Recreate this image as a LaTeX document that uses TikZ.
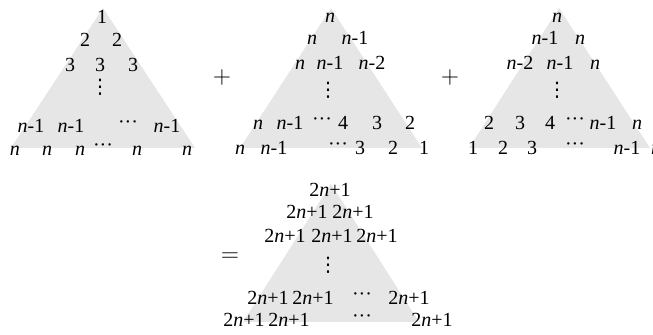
\documentclass[tikz,border=0pt]{standalone}
\usepackage{fontspec}
\setmainfont{Liberation Serif}
\newfontfamily\dotfont{DejaVu Sans}
\usepackage{tikz}
\definecolor{trigray}{HTML}{E6E6E6}
\newcommand{\nn}{\textit{n}}
\newcommand{\rowdots}{\raisebox{0.2em}{\textperiodcentered\textperiodcentered\textperiodcentered}}
\newcommand{\coldots}{{\dotfont ⋮}}

\begin{document}
\begin{tikzpicture}[x=0.5pt, y=-0.5pt,
    entry/.style={anchor=base, inner sep=0pt},
    vdot/.style={inner sep=0pt},
    sign/.style={inner sep=0pt, font=\large}]
  \useasboundingbox (0,0) rectangle (653,335);

  % grey triangles
  \fill[trigray] (103,8) -- (11,148) -- (195,148) -- cycle;
  \fill[trigray] (331,8) -- (240,148) -- (422,148) -- cycle;
  \fill[trigray] (559,8) -- (469,148) -- (650,148) -- cycle;
  \fill[trigray] (331,184) -- (243,322) -- (419,322) -- cycle;

  % first triangle
  \node[entry] (a1) at (102,24) {1};
  \foreach \x [count=\k] in {85,117}
    \node[entry] (a2-\k) at (\x,47) {2};
  \foreach \x [count=\k] in {70,100,133}
    \node[entry] (a3-\k) at (\x,72) {3};
  \node[vdot] (a-vd) at (100,87) {\coldots};
  \foreach \x/\t [count=\k] in {31/\nn-1, 71/\nn-1, 128/\rowdots, 167/\nn-1}
    \node[entry] (a4-\k) at (\x,133) {\t};
  \foreach \x/\t [count=\k] in {15/\nn, 47/\nn, 80/\nn, 103/\rowdots, 137/\nn, 187/\nn}
    \node[entry] (a5-\k) at (\x,156) {\t};

  \node[sign] (plus1) at (222,78) {$+$};

  % second triangle
  \node[entry] (b1) at (330,23) {\nn};
  \foreach \x/\t [count=\k] in {312/\nn, 355/\nn-1}
    \node[entry] (b2-\k) at (\x,45) {\t};
  \foreach \x/\t [count=\k] in {300/\nn, 330/\nn-1, 372/\nn-2}
    \node[entry] (b3-\k) at (\x,70) {\t};
  \node[vdot] (b-vd) at (328,90) {\coldots};
  \foreach \x/\t [count=\k] in {258/\nn, 290/\nn-1, 322/\rowdots, 343/4, 377/3, 410/2}
    \node[entry] (b4-\k) at (\x,130) {\t};
  \foreach \x/\t [count=\k] in {240/\nn, 274/\nn-1, 338/\rowdots, 360/3, 393/2, 424/1}
    \node[entry] (b5-\k) at (\x,155) {\t};

  \node[sign] (plus2) at (450,78) {$+$};

  % third triangle
  \node[entry] (c1) at (557,23) {\nn};
  \foreach \x/\t [count=\k] in {545/\nn-1, 580/\nn}
    \node[entry] (c2-\k) at (\x,45) {\t};
  \foreach \x/\t [count=\k] in {520/\nn-2, 560/\nn-1, 595/\nn}
    \node[entry] (c3-\k) at (\x,70) {\t};
  \node[vdot] (c-vd) at (557,90) {\coldots};
  \foreach \x/\t [count=\k] in {489/2, 520/3, 550/4, 575/\rowdots, 603/\nn-1, 637/\nn}
    \node[entry] (c4-\k) at (\x,130) {\t};
  \foreach \x/\t [count=\k] in {473/1, 503/2, 532/3, 575/\rowdots, 627/\nn-1, 656/\nn}
    \node[entry] (c5-\k) at (\x,155) {\t};

  % sum triangle
  \node[sign] (eq) at (230,257) {$=$};
  \node[entry] (d1) at (330,197) {2\nn+1};
  \foreach \x [count=\k] in {307,353}
    \node[entry] (d2-\k) at (\x,219) {2\nn+1};
  \foreach \x [count=\k] in {285,332,377}
    \node[entry] (d3-\k) at (\x,243) {2\nn+1};
  \node[vdot] (d-vd) at (328,265) {\coldots};
  \foreach \x/\t [count=\k] in {268/2\nn+1, 313/2\nn+1, 362/\rowdots, 409/2\nn+1}
    \node[entry] (d4-\k) at (\x,305) {\t};
  \foreach \x/\t [count=\k] in {244/2\nn+1, 289/2\nn+1, 362/\rowdots, 432/2\nn+1}
    \node[entry] (d5-\k) at (\x,327) {\t};
\end{tikzpicture}
\end{document}
